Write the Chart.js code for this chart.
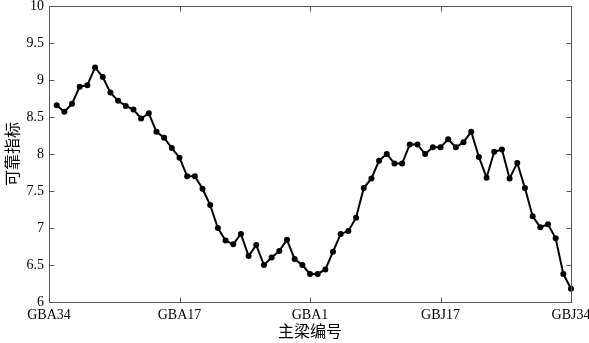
<!DOCTYPE html>
<html><head><meta charset="utf-8">
<script src="https://cdn.jsdelivr.net/npm/chart.js@4/dist/chart.umd.min.js"></script>
<style>html,body{margin:0;padding:0;background:#fff}#wrap{width:589px;height:343px}</style>
</head><body><div id="wrap"><canvas id="c" width="589" height="343"></canvas></div>
<script>
// Reliability index of each girder, in plotting order (GBA34 ... GBA1, GBJ1 ... GBJ34)
const reliability = [
  8.66, 8.57, 8.68, 8.91, 8.93, 9.17, 9.04, 8.83, 8.72, 8.65,
  8.60, 8.48, 8.55, 8.30, 8.22, 8.08, 7.95, 7.70, 7.70, 7.53,
  7.31, 7.00, 6.83, 6.78, 6.92, 6.62, 6.77, 6.50, 6.60, 6.69,
  6.84, 6.58, 6.50, 6.38, 6.38, 6.44, 6.68, 6.92, 6.96, 7.14,
  7.54, 7.67, 7.91, 8.00, 7.87, 7.87, 8.13, 8.13, 8.00, 8.09,
  8.09, 8.20, 8.09, 8.16, 8.30, 7.96, 7.68, 8.03, 8.06, 7.67,
  7.88, 7.54, 7.16, 7.01, 7.05, 6.86, 6.38, 6.18
];
const xTickLabels = ['GBA34', 'GBA17', 'GBA1', 'GBJ17', 'GBJ34'];
const xTickValues = [0, 17, 34, 51, 68];
const yTickValues = [6, 6.5, 7, 7.5, 8, 8.5, 9, 9.5, 10];
const xTitle = '主梁编号';
const yTitle = '可靠指标';

const points = reliability.map((v, i) => ({ x: i + 1, y: v }));
const latin = "'Liberation Serif', 'Times New Roman', serif";
const cjk = "'Noto Sans CJK SC', 'Liberation Serif', serif";

const frame = {
  id: 'frame',
  afterDraw(chart) {
    const { ctx, chartArea: { left, right, top, bottom }, scales: { x, y } } = chart;
    ctx.save();
    ctx.strokeStyle = '#555';
    ctx.lineWidth = 1;
    const L = Math.round(left) + 0.5, R = Math.round(right) + 0.5;
    const T = Math.round(top) + 0.5, B = Math.round(bottom) + 0.5;
    ctx.strokeRect(L, T, R - L, B - T);
    const tl = 5;
    ctx.beginPath();
    x.ticks.forEach(t => {
      const px = Math.round(x.getPixelForValue(t.value)) + 0.5;
      ctx.moveTo(px, B); ctx.lineTo(px, B - tl);
      ctx.moveTo(px, T); ctx.lineTo(px, T + tl);
    });
    y.ticks.forEach(t => {
      const py = Math.round(y.getPixelForValue(t.value)) + 0.5;
      ctx.moveTo(L, py); ctx.lineTo(L + tl, py);
      ctx.moveTo(R, py); ctx.lineTo(R - tl, py);
    });
    ctx.stroke();
    ctx.restore();
  }
};

new Chart(document.getElementById('c'), {
  type: 'line',
  data: {
    datasets: [{
      data: points,
      borderColor: '#000',
      backgroundColor: '#000',
      borderWidth: 2,
      pointRadius: 3,
      pointBackgroundColor: '#000',
      pointBorderColor: '#000',
      pointBorderWidth: 0,
      tension: 0,
      clip: false
    }]
  },
  options: {
    responsive: false,
    animation: false,
    devicePixelRatio: 1,
    layout: { padding: { top: 6, right: 18, left: 0, bottom: 0 } },
    plugins: { legend: { display: false }, tooltip: { enabled: false } },
    scales: {
      x: {
        type: 'linear',
        min: 0, max: 68,
        afterBuildTicks: s => { s.ticks = xTickValues.map(v => ({ value: v })); },
        ticks: {
          autoSkip: false, maxRotation: 0, minRotation: 0, padding: 5,
          color: '#000', font: { family: latin, size: 14 },
          callback: v => xTickLabels[xTickValues.indexOf(v)]
        },
        grid: { display: false, drawTicks: false },
        border: { display: false },
        title: { display: true, text: xTitle, color: '#000', font: { family: cjk, size: 16 }, padding: { top: 0, bottom: 2 } },
        afterFit: s => { s.height = 41; s.paddingLeft = 0; s.paddingRight = 0; }
      },
      y: {
        min: 6, max: 10,
        afterBuildTicks: s => { s.ticks = yTickValues.map(v => ({ value: v })); },
        ticks: {
          padding: 5, color: '#000', font: { family: latin, size: 14 },
          callback: v => String(v)
        },
        grid: { display: false, drawTicks: false },
        border: { display: false },
        title: { display: true, text: yTitle, color: '#000', font: { family: cjk, size: 16 }, padding: { top: 2, bottom: 2 } },
        afterFit: s => { s.width = 49; s.paddingTop = 0; s.paddingBottom = 0; }
      }
    }
  },
  plugins: [frame]
});
</script>
</body></html>
